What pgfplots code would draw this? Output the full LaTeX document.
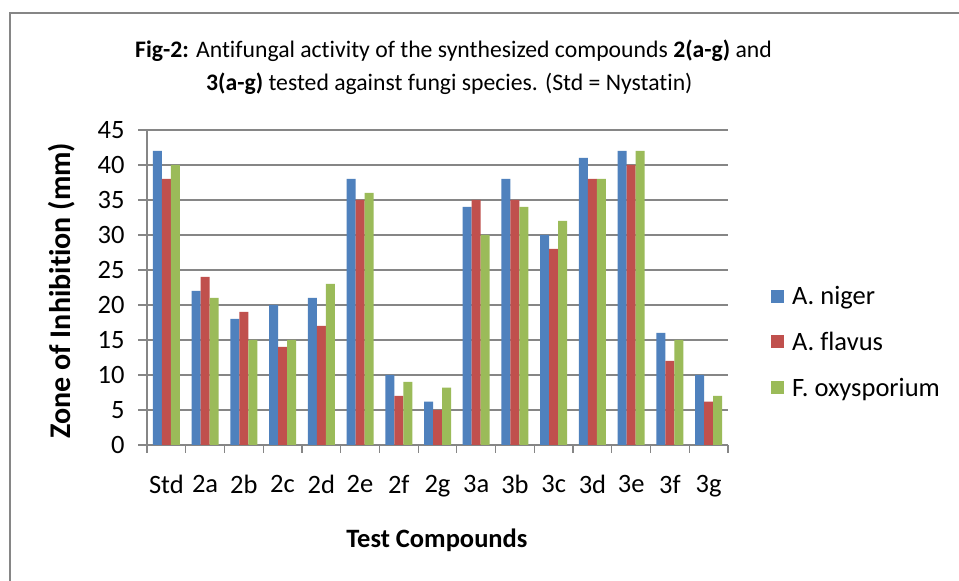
\documentclass[border=0pt]{standalone}
\usepackage{pgfplots}
\pgfplotsset{compat=1.18}
\usepackage{fontspec}
\setmainfont{Carlito}[Ligatures={NoCommon}]
\definecolor{cblue}{RGB}{79,129,189}
\definecolor{cred}{RGB}{192,80,77}
\definecolor{cgreen}{RGB}{155,187,89}
\definecolor{cgray}{RGB}{134,134,134}
\begin{document}
\begin{tikzpicture}[x=1pt,y=1pt]
\useasboundingbox (0,0) rectangle (959,581);
\fill[white] (0,0) rectangle (959,581);
\draw[cgray, line width=2.5pt] (10,-2) -- (10,568) -- (961,568);
\node[anchor=base west, inner sep=0pt, font=\fontsize{23.7}{28}\selectfont] at (135,523) {\textbf{Fig-2:} Antifungal activity of the synthesized compounds \textbf{2(a-g)} and};
\node[anchor=base west, inner sep=0pt, font=\fontsize{23.7}{28}\selectfont] at (206,490) {\textbf{3(a-g)} tested against fungi species. (Std = Nystatin)};
\begin{axis}[
  at={(147pt,136pt)}, anchor=south west,
  scale only axis, width=581pt, height=315pt,
  ymin=0, ymax=45, ytick={0,5,...,45},
  xmin=-0.5, xmax=14.5,
  xtick={0,...,14},
  xticklabels={Std,2a,2b,2c,2d,2e,2f,2g,3a,3b,3c,3d,3e,3f,3g},
  minor xtick={-0.5,0.5,...,14.5},
  major x tick style={draw=none},
  minor x tick style={cgray, line width=1.2pt},
  minor tick length=8pt,
  major tick length=9pt,
  tick align=outside,
  y tick style={cgray, line width=1.2pt},
  axis x line*=bottom, axis y line*=left,
  axis line style={cgray, line width=1.8pt},
  ymajorgrids, grid style={cgray, line width=1.2pt},
  tick label style={font=\fontsize{26.5}{31}\selectfont},
  /pgf/number format/assume math mode=true,
  xticklabel style={yshift=-18pt},
  yticklabel style={xshift=-10pt},
  ybar=0pt, bar width=9pt,
  xlabel={\textbf{Test Compounds}},
  xlabel style={at={(axis description cs:0.499,-0.325)}, anchor=base, font=\fontsize{26.5}{31}\selectfont},
  ylabel={\textbf{Zone of Inhibition (mm)}},
  ylabel style={at={(axis description cs:-0.147,0.49)}, anchor=center, font=\fontsize{30}{35}\selectfont},
  legend style={at={(axis description cs:1.074,0.327)}, anchor=west, draw=none, fill=none,
    font=\fontsize{26.5}{31}\selectfont, row sep=22pt, inner sep=0pt,
    /tikz/every odd column/.append style={column sep=6pt}},
  legend cell align=left,
  legend image code/.code={\fill[#1] (0pt,-6.5pt) rectangle (13pt,6.5pt);},
]
\addplot[fill=cblue, draw=none] coordinates {(0,42) (1,22) (2,18) (3,20) (4,21) (5,38) (6,10) (7,6.2) (8,34) (9,38) (10,30) (11,41) (12,42) (13,16) (14,10)};
\addplot[fill=cred, draw=none] coordinates {(0,38) (1,24) (2,19) (3,14) (4,17) (5,35) (6,7) (7,5) (8,35) (9,35) (10,28) (11,38) (12,40) (13,12) (14,6.2)};
\addplot[fill=cgreen, draw=none] coordinates {(0,40) (1,21) (2,15) (3,15) (4,23) (5,36) (6,9) (7,8.2) (8,30) (9,34) (10,32) (11,38) (12,42) (13,15) (14,7)};
\legend{A. niger, A. flavus, F. oxysporium}
\end{axis}
\end{tikzpicture}
\end{document}
